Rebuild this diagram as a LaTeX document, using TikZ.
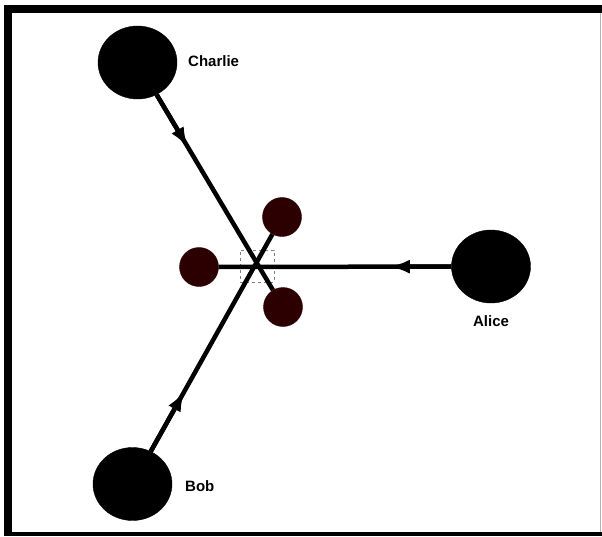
\documentclass[tikz,border=0pt]{standalone}
\usepackage{fontspec}
\setmainfont{Liberation Sans}
\usetikzlibrary{shapes.geometric,arrows.meta,calc}
\definecolor{darkmaroon}{RGB}{45,0,0}
\tikzset{
  person/.style={ellipse, fill=black, draw=black, minimum width=79pt, minimum height=73pt, inner sep=0pt},
  port/.style={circle, fill=darkmaroon, draw=darkmaroon, minimum size=39pt, inner sep=0pt},
  lbl/.style={font=\bfseries\fontsize{15pt}{17pt}\selectfont, inner sep=0pt},
  link/.style={line width=4.5pt, draw=black},
  head/.style={line width=4.5pt, draw=black, -{Latex[length=21pt,width=14pt]}},
  frame/.style={fill=black}
}
\begin{document}
\begin{tikzpicture}[x=1pt,y=-1pt]
\useasboundingbox (0,0) rectangle (602,536);
\fill[white] (0,0) rectangle (602,536);
% frame
\fill[frame] (4,5) rectangle (602,13);
\fill[frame] (4,5) rectangle (12,536);
\fill[frame] (4,532) rectangle (602,536);
\draw[gray!60, line width=1pt] (600.5,13) -- (600.5,532);
% nodes
\node[person] (charlie) at (137.5,62.5) {};
\node[person] (alice) at (491,266.5) {};
\node[person] (bob) at (132.5,484) {};
\node[port] (r1) at (199,267) {};
\node[port] (r2) at (282,217) {};
\node[port] (r3) at (283,307) {};
\node[draw=gray, dashed, line width=0.8pt, minimum width=34pt, minimum height=32pt, inner sep=0pt] (box) at (257,266) {};
% labels
\node[lbl, anchor=west] (lc) at (188,61) {Charlie};
\node[lbl] (la) at (491,321) {Alice};
\node[lbl, anchor=west] (lb) at (185,486) {Bob};
% connectors
\draw[link] (charlie) -- (r3);
\draw[link] (alice) -- (r1);
\draw[link] (bob) -- (r2);
\draw[head] (charlie) -- ($(charlie)!0.35!(r3)$);
\draw[head] (alice) -- ($(alice)!0.35!(r1)$);
\draw[head] (bob) -- ($(bob)!0.35!(r2)$);
\end{tikzpicture}
\end{document}
